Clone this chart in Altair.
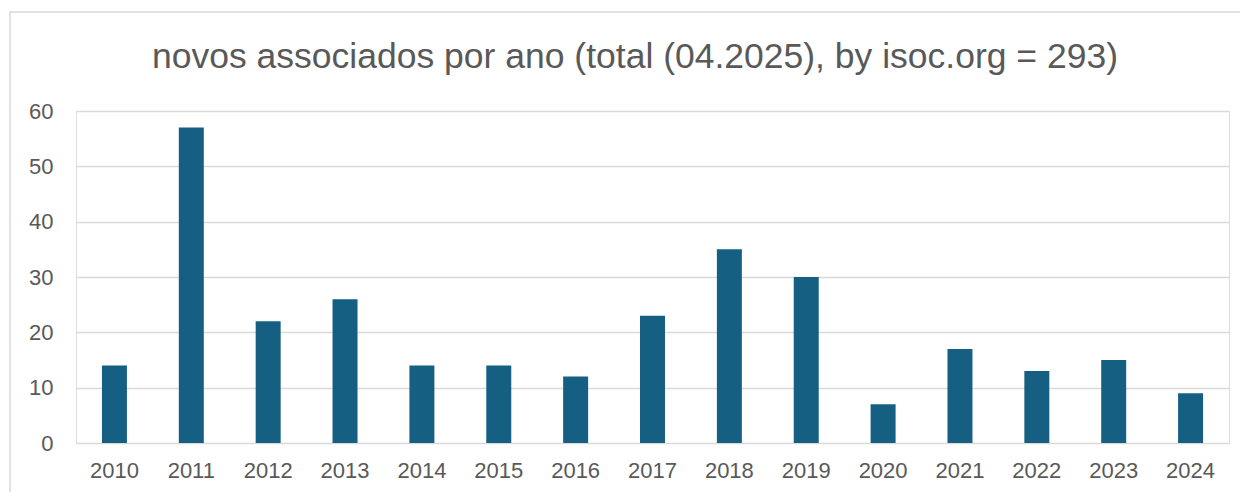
import altair as alt
import pandas as pd

years = ["2010", "2011", "2012", "2013", "2014", "2015", "2016", "2017",
         "2018", "2019", "2020", "2021", "2022", "2023", "2024"]
values = [14, 57, 22, 26, 14, 14, 12, 23, 35, 30, 7, 17, 13, 15, 9]
y_ticks = [0, 10, 20, 30, 40, 50, 60]
title_text = "novos associados por ano (total (04.2025), by isoc.org = 293)"

df = pd.DataFrame({"ano": years, "valor": values})

W, H = 1153, 332
font = "Liberation Sans"
gray_text = "#595959"
grid = "#d9d9d9"

frame = alt.Chart(pd.DataFrame({"k": [0]})).mark_rect(
    fillOpacity=0, stroke=grid, strokeWidth=1.5, clip=False
).encode(
    x=alt.value(-66), x2=alt.value(W + 100),
    y=alt.value(-99), y2=alt.value(H + 100)
)

title = alt.Chart(pd.DataFrame({"t": [title_text]})).mark_text(
    font=font, fontSize=35.5, color=gray_text, align="center",
    baseline="alphabetic"
).encode(
    text="t:N", x=alt.value(559), y=alt.value(-43)
)

bars = alt.Chart(df).mark_bar(color="#156082").encode(
    x=alt.X("ano:N", sort=years,
            scale=alt.Scale(paddingInner=0.675, paddingOuter=0.3375),
            axis=alt.Axis(title=None, labelAngle=0, labelFontSize=22,
                          labelColor=gray_text, labelFont=font, ticks=False,
                          domain=False, labelPadding=17)),
    y=alt.Y("valor:Q", scale=alt.Scale(domain=[0, 60], nice=False),
            axis=alt.Axis(title=None, values=y_ticks, labelFontSize=22,
                          labelColor=gray_text, labelFont=font, ticks=False,
                          domain=False, labelPadding=23, gridColor=grid,
                          gridWidth=1.5))
)

chart = alt.layer(frame, title, bars).properties(
    width=W, height=H,
    autosize=alt.AutoSizeParams(type="none"),
    padding={"left": 68, "top": 103, "right": 11, "bottom": 49}
).configure_view(stroke=None).configure(background="white")

chart.save("out.html", embed_options={"renderer": "svg", "actions": False})
